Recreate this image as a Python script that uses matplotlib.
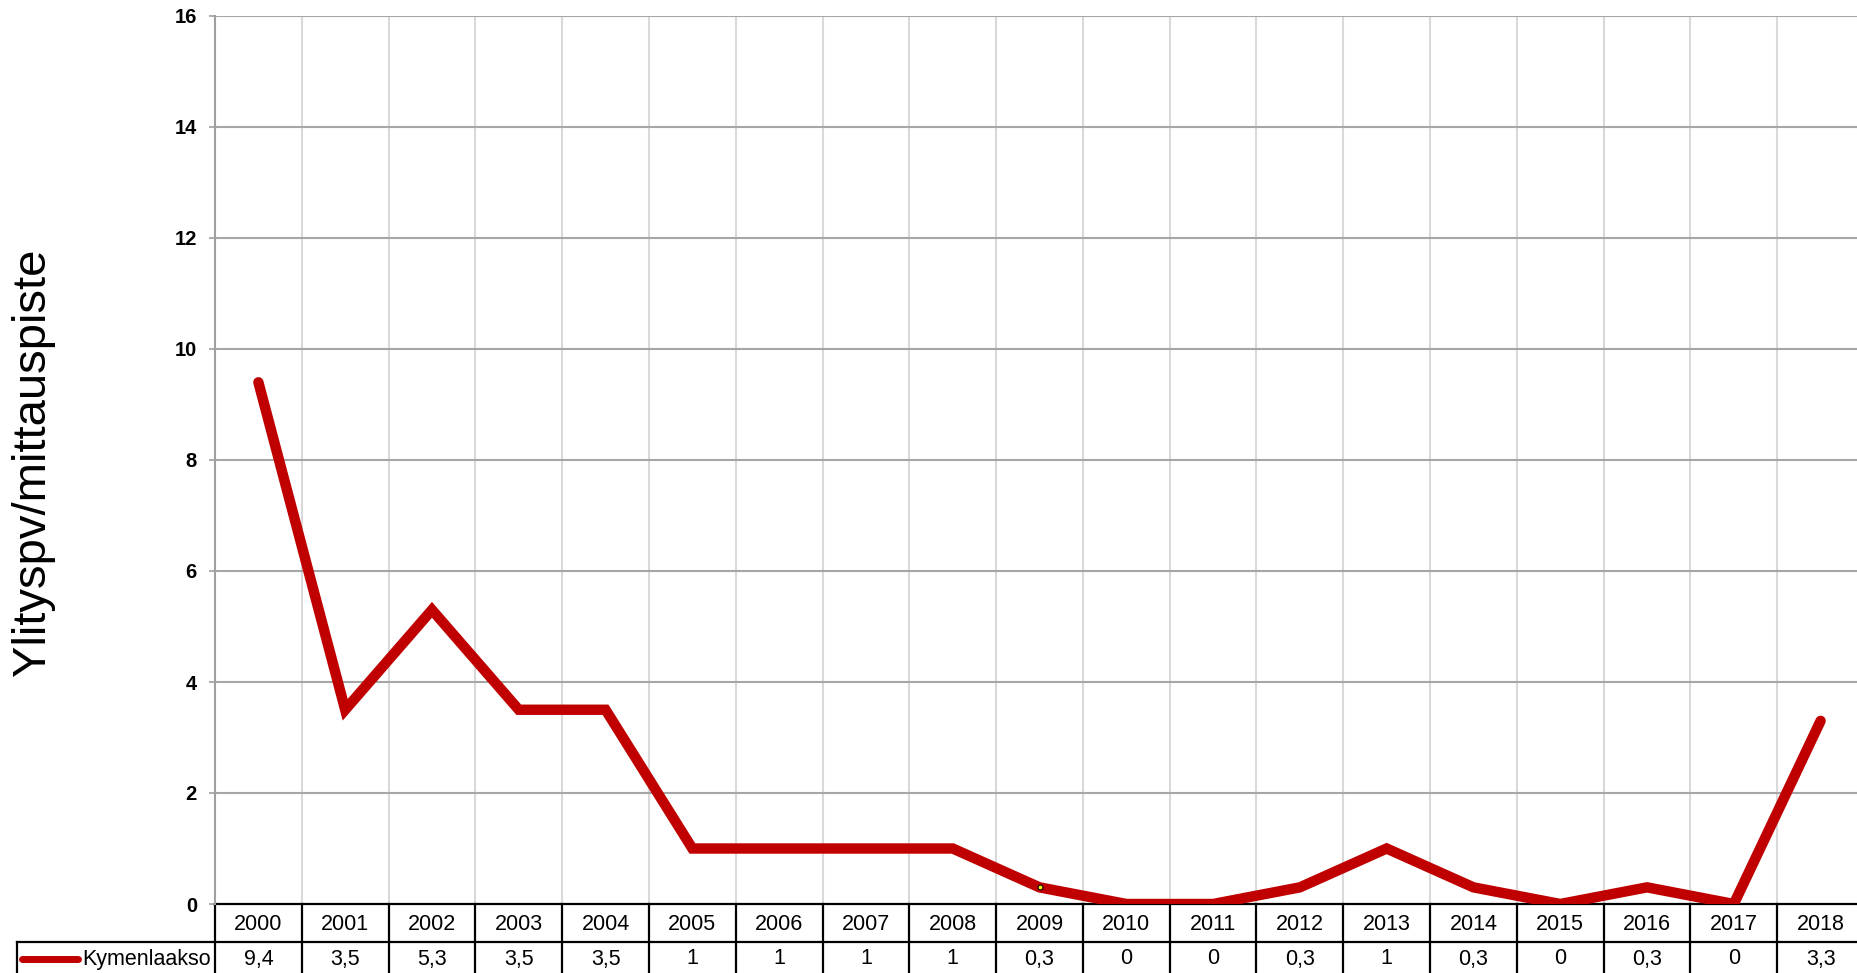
import matplotlib
matplotlib.use("Agg")
import matplotlib.pyplot as plt
import matplotlib.transforms as mtransforms

plt.rcParams['font.family'] = ['Liberation Sans', 'DejaVu Sans']

years = ['2000', '2001', '2002', '2003', '2004', '2005', '2006', '2007', '2008', '2009',
         '2010', '2011', '2012', '2013', '2014', '2015', '2016', '2017', '2018']
values = [9.4, 3.5, 5.3, 3.5, 3.5, 1, 1, 1, 1, 0.3, 0, 0, 0.3, 1, 0.3, 0, 0.3, 0, 3.3]
value_labels = ['9,4', '3,5', '5,3', '3,5', '3,5', '1', '1', '1', '1', '0,3',
                '0', '0', '0,3', '1', '0,3', '0', '0,3', '0', '3,3']
series_name = 'Kymenlaakso'
y_ticks = [0, 2, 4, 6, 8, 10, 12, 14, 16]

red = '#C00000'
W, H = 1857, 973

fig = plt.figure(figsize=(W / 100, H / 100), dpi=100)
# plot area runs slightly past the right edge of the image
ax = fig.add_axes([215 / W, 1 - 904 / H, (1864 - 215) / W, (904 - 16) / H])

x = list(range(len(years)))
ax.plot(x, values, color=red, lw=7.5, solid_joinstyle='miter', solid_capstyle='round', zorder=3)
# small selection marker seen on 2009
ax.plot([x[9]], [values[9]], 'o', ms=3.5, mfc='yellow', mec='black', mew=0.8, zorder=4)

ax.set_xlim(-0.5, len(years) - 0.5)
ax.set_ylim(0, 16)
ax.set_yticks(y_ticks)
ax.set_yticklabels([str(t) for t in y_ticks], fontweight='bold', fontsize=14.5)
ax.tick_params(axis='y', length=4, width=1.2, color='#A0A0A0', pad=9)
ax.set_xticks([])

for t in y_ticks[1:]:
    ax.axhline(t, color='#A6A6A6', lw=1.5, zorder=1)
for i in range(1, len(years)):
    ax.axvline(i - 0.5, color='#D9D9D9', lw=1.5, zorder=0)

for s in ['top', 'right', 'bottom']:
    ax.spines[s].set_visible(False)
ax.spines['left'].set_color('#A0A0A0')
ax.spines['left'].set_linewidth(1.5)

# data table below the axis
trans = mtransforms.blended_transform_factory(ax.transData, ax.transAxes)
ah = 904 - 16
row1 = -38 / ah
row_mid1 = -20 / ah
row_mid2 = -55 / ah
bottom = -0.12
for i in range(len(years) + 1):
    ax.plot([i - 0.5, i - 0.5], [0, bottom], color='black', lw=1.6, transform=trans, clip_on=False)
ax.plot([-0.5, len(years) - 0.5], [0, 0], color='black', lw=1.6, transform=trans, clip_on=False)

fig_trans = mtransforms.blended_transform_factory(fig.transFigure, ax.transAxes)
ax.plot([17 / W, 1], [row1, row1], color='black', lw=1.6, transform=fig_trans, clip_on=False)
ax.plot([17 / W, 17 / W], [row1, bottom], color='black', lw=1.6, transform=fig_trans, clip_on=False)

for i, (yr, lab) in enumerate(zip(years, value_labels)):
    ax.text(i, row_mid1, yr, transform=trans, ha='center', va='center', fontsize=15.5)
    ax.text(i, row_mid2, lab, transform=trans, ha='center', va='center', fontsize=15.5)

ax.plot([22 / W, 78 / W], [row_mid2, row_mid2], color=red, lw=5, solid_capstyle='round',
        transform=fig_trans, clip_on=False)
ax.text(82 / W, row_mid2, series_name, transform=fig_trans, ha='left', va='center', fontsize=15.5)

fig.text(0.018, 0.525, 'Ylityspv/mittauspiste', rotation=90, ha='center', va='center', fontsize=34)

fig.savefig('out.png', dpi=100)
